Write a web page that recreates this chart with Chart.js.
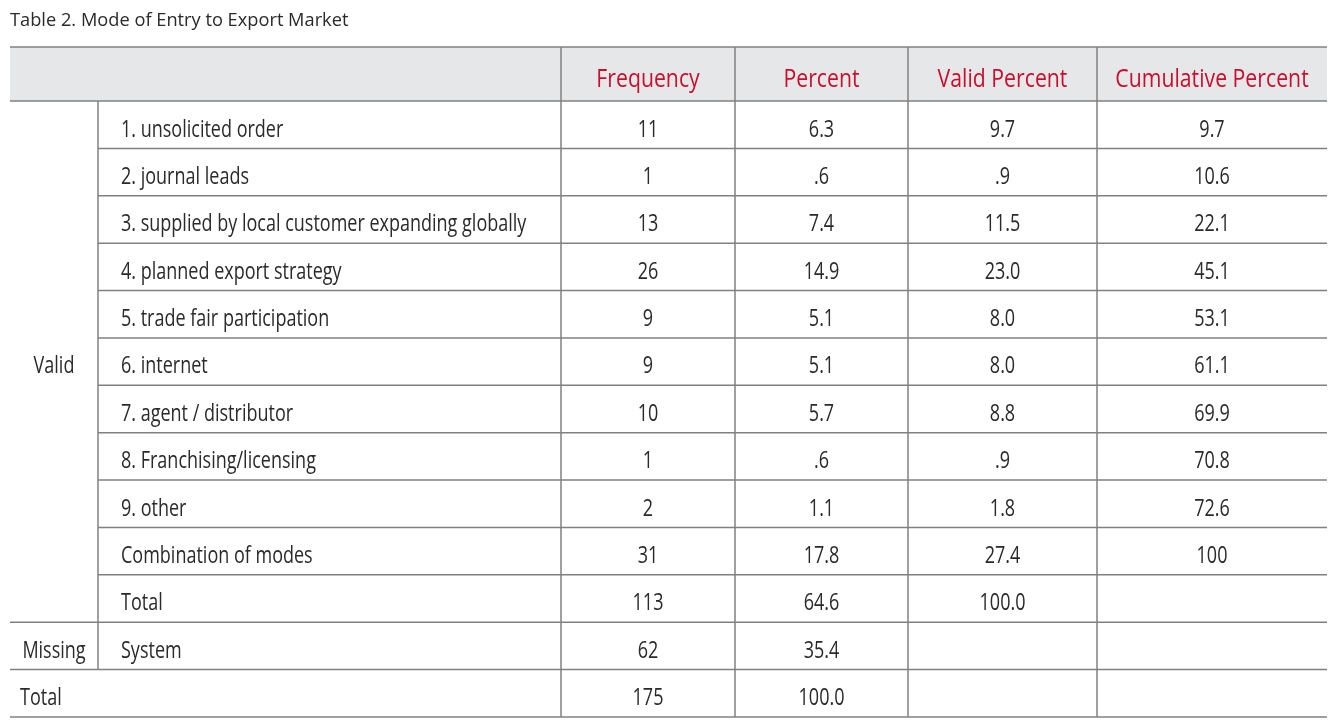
<!DOCTYPE html>
<html>
<head>
<meta charset="utf-8">
<script src="https://cdn.jsdelivr.net/npm/chart.js@4/dist/chart.umd.min.js"></script>
<style>
    html, body { margin: 0; padding: 0; background: #ffffff; }
    #wrap { width: 1337px; height: 721px; position: relative; }
</style>
</head>
<body>
<div id="wrap"><canvas id="tableChart"></canvas></div>
<script>
// Table content
const title = 'Table 2. Mode of Entry to Export Market';
const headers = ['Frequency', 'Percent', 'Valid Percent', 'Cumulative Percent'];

const validLabels = [
    '1. unsolicited order',
    '2. journal leads',
    '3. supplied by local customer expanding globally',
    '4. planned export strategy',
    '5. trade fair participation',
    '6. internet',
    '7. agent / distributor',
    '8. Franchising/licensing',
    '9. other',
    'Combination of modes',
    'Total'
];
const validFrequency = [11, 1, 13, 26, 9, 9, 10, 1, 2, 31, 113];
const validPercent = ['6.3', '.6', '7.4', '14.9', '5.1', '5.1', '5.7', '.6', '1.1', '17.8', '64.6'];
const validValidPercent = ['9.7', '.9', '11.5', '23.0', '8.0', '8.0', '8.8', '.9', '1.8', '27.4', '100.0'];
const validCumulative = ['9.7', '10.6', '22.1', '45.1', '53.1', '61.1', '69.9', '70.8', '72.6', '100', ''];

const missingLabel = 'System';
const missingFrequency = [62];
const missingPercent = ['35.4'];

const totalFrequency = [175];
const totalPercent = ['100.0'];

// Layout (scale units, not data)
const colEdges = [0, 88, 551, 725, 898, 1087, 1317];
const headerRows = 1.14;
const rowCount = validLabels.length + 2;

const LINE = '#808080';
const TEXT = '#2a2a2a';
const RED = '#c8102e';
const HEAD_BG = '#e6e7e8';
const FONT = "'Open Sans', 'Noto Sans', sans-serif";

// condensed text: font size + horizontal squeeze
const STYLE = {
    title: { size: 19, squeeze: 0.96, color: TEXT },
    head: { size: 25, squeeze: 0.85, color: RED },
    body: { size: 24, squeeze: 0.75, color: TEXT }
};

function drawText(ctx, text, px, py, align, style) {
    ctx.save();
    ctx.font = style.size + 'px ' + FONT;
    ctx.fillStyle = style.color;
    ctx.textBaseline = 'middle';
    ctx.textAlign = 'left';
    const w = ctx.measureText(text).width * style.squeeze;
    let x0 = px;
    if (align === 'center') x0 = px - w / 2;
    ctx.translate(x0, py);
    ctx.scale(style.squeeze, 1);
    ctx.fillText(text, 0, 0);
    ctx.restore();
}

// Build rows from the arrays
const rows = validLabels.map((label, i) => ({
    label: label,
    cells: [String(validFrequency[i]), validPercent[i], validValidPercent[i], validCumulative[i]]
}));
rows.push({ label: missingLabel, cells: [String(missingFrequency[0]), missingPercent[0], '', ''] });
rows.push({ label: null, cells: [String(totalFrequency[0]), totalPercent[0], '', ''] });

const tablePlugin = {
    id: 'tablePlugin',
    beforeDraw(chart) {
        const ctx = chart.ctx;
        const xs = chart.scales.x;
        const ys = chart.scales.y;
        const left = xs.getPixelForValue(colEdges[0]);
        const right = xs.getPixelForValue(colEdges[colEdges.length - 1]);

        // Header background
        ctx.save();
        ctx.fillStyle = HEAD_BG;
        ctx.fillRect(left, ys.getPixelForValue(0), right - left,
            ys.getPixelForValue(headerRows) - ys.getPixelForValue(0));
        ctx.restore();
    },
    afterDraw(chart) {
        const ctx = chart.ctx;
        const xs = chart.scales.x;
        const ys = chart.scales.y;
        const X = v => xs.getPixelForValue(v);
        const Y = v => ys.getPixelForValue(v);
        const left = X(colEdges[0]);
        const right = X(colEdges[colEdges.length - 1]);
        const nValid = validLabels.length;

        ctx.save();
        ctx.strokeStyle = LINE;
        ctx.lineWidth = 1.5;
        const hline = (x0, x1, yy) => {
            ctx.beginPath(); ctx.moveTo(x0, yy); ctx.lineTo(x1, yy); ctx.stroke();
        };
        const vline = (xx, y0, y1) => {
            ctx.beginPath(); ctx.moveTo(xx, y0); ctx.lineTo(xx, y1); ctx.stroke();
        };

        // Horizontal rules
        hline(left, right, Y(0));
        hline(left, right, Y(headerRows));
        for (let i = 1; i < nValid; i++) {
            hline(X(colEdges[1]), right, Y(headerRows + i));
        }
        hline(left, right, Y(headerRows + nValid));
        hline(left, right, Y(headerRows + nValid + 1));
        hline(left, right, Y(headerRows + nValid + 2));

        // Vertical rules
        vline(X(colEdges[1]), Y(headerRows), Y(headerRows + nValid + 1));
        for (let c = 2; c < colEdges.length - 1; c++) {
            vline(X(colEdges[c]), Y(0), Y(headerRows + rowCount));
        }
        ctx.restore();

        // Title
        drawText(ctx, title, 10, 21, 'left', STYLE.title);

        // Header labels
        headers.forEach((h, i) => {
            const cx = X((colEdges[i + 2] + colEdges[i + 3]) / 2);
            drawText(ctx, h, cx, Y(headerRows / 2) + 6, 'center', STYLE.head);
        });

        // Body
        rows.forEach((row, r) => {
            const cy = Y(headerRows + r + 0.5) + 5;
            if (row.label !== null) {
                drawText(ctx, row.label, X(colEdges[1]) + 23, cy, 'left', STYLE.body);
            }
            row.cells.forEach((cell, c) => {
                if (!cell) return;
                const cx = X((colEdges[c + 2] + colEdges[c + 3]) / 2);
                drawText(ctx, cell, cx, cy, 'center', STYLE.body);
            });
        });

        // Group labels
        drawText(ctx, 'Valid', X(colEdges[1] / 2), Y(headerRows + nValid / 2) + 5, 'center', STYLE.body);
        drawText(ctx, 'Missing', X(colEdges[1] / 2), Y(headerRows + nValid + 0.5) + 5, 'center', STYLE.body);
        drawText(ctx, 'Total', left + 10, Y(headerRows + nValid + 1.5) + 5, 'left', STYLE.body);
    }
};

new Chart(document.getElementById('tableChart'), {
    type: 'scatter',
    data: { datasets: [] },
    options: {
        responsive: true,
        maintainAspectRatio: false,
        animation: false,
        layout: { padding: { left: 10, right: 10, top: 47, bottom: 4 } },
        plugins: { legend: { display: false }, tooltip: { enabled: false } },
        scales: {
            x: { type: 'linear', display: false, min: colEdges[0], max: colEdges[colEdges.length - 1] },
            y: { type: 'linear', display: false, reverse: true, min: 0, max: headerRows + rowCount }
        }
    },
    plugins: [tablePlugin]
});
</script>
</body>
</html>
